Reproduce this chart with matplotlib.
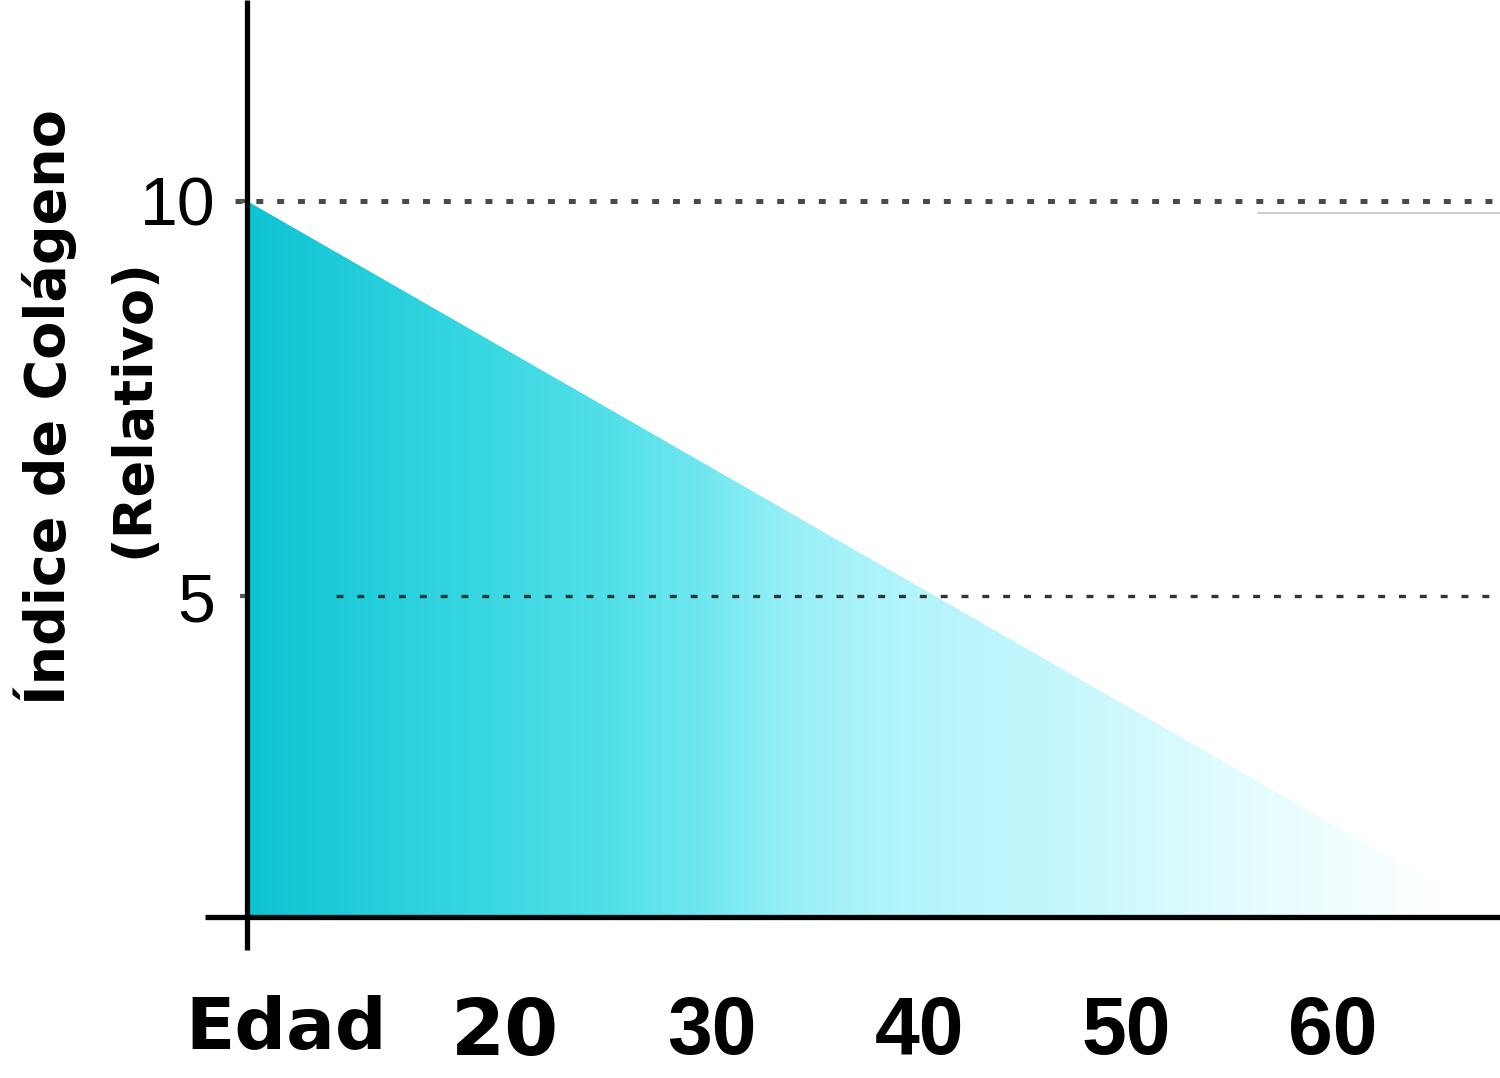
import numpy as np
import matplotlib
matplotlib.use("Agg")
import matplotlib.pyplot as plt
from matplotlib.colors import LinearSegmentedColormap

plt.rcParams['lines.scale_dashes'] = False

# ---- data ----
ages = [7.5, 65.2]            # age at start / end of the decline
collagen = [10.0, 1.33]       # relative collagen index
x_ticks = [9.4, 20, 30, 40, 50, 60]
x_labels = ["Edad", "20", "30", "40", "50", "60"]
y_ticks = [5, 10]
y_labels = ["5", "10"]
ref_levels = [10, 5]

fig = plt.figure(figsize=(15, 10.78), dpi=100)
ax = fig.add_axes([247/1500, 161/1078, 1 - 247/1500, 917/1078])
ax.set_xlim(7.5, 68.1)
ax.set_ylim(0.937, 12.544)
base = 0.937

# gradient fill clipped to the area under the line
poly = ax.fill_between(ages, collagen, base, color='none', lw=0)
stops = [(0.00, '#0fc3d3'), (0.17, '#33d5e0'), (0.296, '#50dfe8'),
         (0.38, '#70e7ef'), (0.464, '#9cf0f7'), (0.547, '#b2f4fb'),
         (0.673, '#c4f7fd'), (0.799, '#dcfbfe'), (0.925, '#f2feff'),
         (1.00, '#ffffff')]
cmap = LinearSegmentedColormap.from_list('grad', stops)
grad = np.linspace(0, 1, 512).reshape(1, -1)
im = ax.imshow(grad, cmap=cmap, aspect='auto', interpolation='bicubic',
               extent=[ages[0], ages[1], base, collagen[0]], zorder=1)
im.set_clip_path(poly.get_paths()[0], transform=ax.transData)

# reference dotted lines
ax.plot([6.9, 68.1], [ref_levels[0]] * 2, color='#4a4a4a', lw=3.6,
        dashes=(5, 10), zorder=0.5, clip_on=False)
ax.plot([11.8, 68.1], [ref_levels[1]] * 2, color='#333333', lw=2.4,
        dashes=(5, 10), zorder=2, clip_on=False)
ax.plot([56.4, 68.1], [9.85, 9.85], color='#c4c4c4', lw=1.2, zorder=2)

# axes lines
for s in ax.spines.values():
    s.set_visible(False)
ax.plot([0, 0], [-0.036, 1], transform=ax.transAxes, color='black',
        lw=3.8, clip_on=False, zorder=5, solid_capstyle='butt')
ax.plot([-0.0335, 1], [0, 0], transform=ax.transAxes, color='black',
        lw=3.8, clip_on=False, zorder=5, solid_capstyle='butt')

ax.set_xticks(x_ticks)
ax.set_xticklabels(x_labels)
ax.set_yticks(y_ticks)
ax.set_yticklabels(y_labels)
ax.tick_params(axis='x', length=0, pad=56)
ax.tick_params(axis='y', length=5, width=3, color='#555555', pad=18)
for i, t in enumerate(ax.get_xticklabels()):
    if i < 2:
        t.set_fontfamily('DejaVu Sans')
        t.set_fontsize(52 if i == 0 else 56)
    else:
        t.set_fontfamily('Liberation Sans')
        t.set_fontsize(58)
    t.set_fontweight('bold')
for t in ax.get_yticklabels():
    t.set_fontfamily('Liberation Sans')
    t.set_fontsize(49)

fig.text(45/1500, 1 - 407/1078, "Índice de Colágeno", rotation=90,
         ha='center', va='center', fontsize=40, fontweight='bold',
         family='DejaVu Sans')
fig.text(133/1500, 1 - 408/1078, "(Relativo)", rotation=90,
         ha='center', va='center', fontsize=39, fontweight='bold',
         family='DejaVu Sans')

fig.savefig('out.png', dpi=100, facecolor='white')
